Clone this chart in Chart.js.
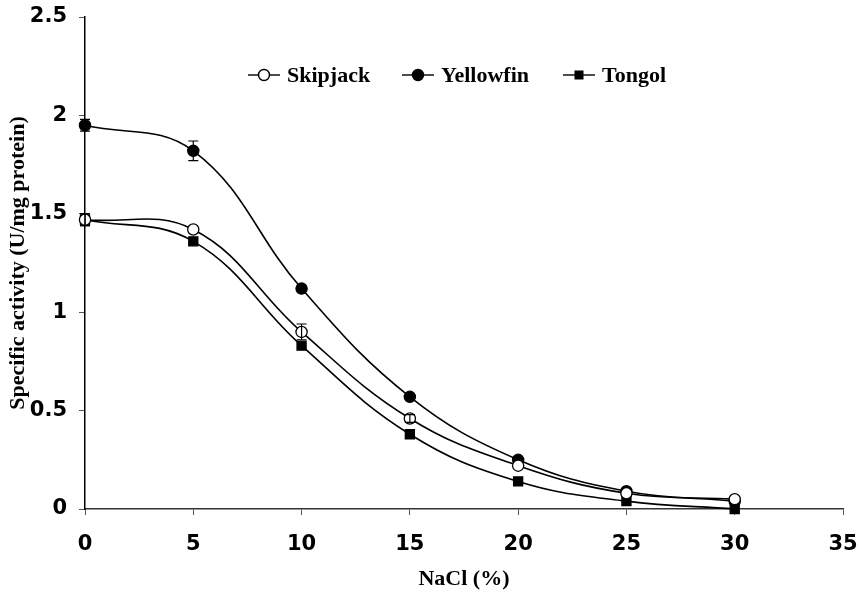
<!DOCTYPE html>
<html>
<head>
<meta charset="utf-8">
<script src="https://cdn.jsdelivr.net/npm/chart.js@4/dist/chart.umd.min.js"></script>
<style>
    body { margin: 0; background: #fff; }
</style>
</head>
<body>
<canvas id="nacl" width="862" height="593"></canvas>
<script>
const nacl = [0, 5, 10, 15, 20, 25, 30];
const skipjack = [1.47, 1.42, 0.90, 0.46, 0.22, 0.08, 0.05];
const yellowfin = [1.95, 1.82, 1.12, 0.57, 0.25, 0.09, 0.04];
const tongol = [1.47, 1.36, 0.83, 0.38, 0.14, 0.04, 0.00];
const skipjackErr = [0.03, 0.01, 0.04, 0.02, 0.01, 0.01, 0.01];
const yellowfinErr = [0.03, 0.05, 0.01, 0.01, 0.01, 0.01, 0.01];
const tongolErr = [0.03, 0.01, 0.01, 0.01, 0.01, 0.01, 0.01];
const xTicks = [0, 5, 10, 15, 20, 25, 30, 35];
const yTicks = [0, 0.5, 1, 1.5, 2, 2.5];

function points(ys) {
    return nacl.map((x, i) => ({x: x, y: ys[i]}));
}

//error bars drawn from the err arrays through the scales
const errorBars = {
    id: 'errorBars',
    afterDatasetsDraw(chart) {
        const ctx = chart.ctx;
        const xs = chart.scales.x, ys = chart.scales.y;
        ctx.save();
        ctx.strokeStyle = '#000';
        ctx.lineWidth = 1.2;
        chart.data.datasets.forEach(ds => {
            ds.data.forEach((p, i) => {
                let e = ds.err[i];
                if (e < 0.02) return;
                let px = xs.getPixelForValue(p.x);
                let top = ys.getPixelForValue(p.y + e);
                let bot = ys.getPixelForValue(p.y - e);
                ctx.beginPath();
                ctx.moveTo(px, top); ctx.lineTo(px, bot);
                ctx.moveTo(px - 5, top); ctx.lineTo(px + 5, top);
                ctx.moveTo(px - 5, bot); ctx.lineTo(px + 5, bot);
                ctx.stroke();
            });
        });
        ctx.restore();
    }
};

//legend inside the plot area
const innerLegend = {
    id: 'innerLegend',
    afterDraw(chart) {
        const ctx = chart.ctx;
        const starts = [248, 402, 563];
        const y = 75;
        ctx.save();
        ctx.font = 'bold 22px "Liberation Serif"';
        ctx.textBaseline = 'middle';
        chart.data.datasets.forEach((ds, i) => {
            let x = starts[i];
            ctx.strokeStyle = '#000';
            ctx.lineWidth = 1.4;
            ctx.beginPath();
            ctx.moveTo(x, y); ctx.lineTo(x + 32, y);
            ctx.stroke();
            if (ds.pointStyle === 'rect') {
                ctx.fillStyle = '#000';
                ctx.fillRect(x + 11.5, y - 4.5, 9, 9);
            } else {
                ctx.fillStyle = ds.pointBackgroundColor;
                ctx.beginPath();
                ctx.arc(x + 16, y, 5.5, 0, Math.PI * 2);
                ctx.fill();
                ctx.stroke();
            }
            ctx.fillStyle = '#000';
            ctx.fillText(ds.label, x + 39, y + 1);
        });
        ctx.restore();
    }
};

function series(label, ys, err, style, fill) {
    return {
        label: label,
        data: points(ys),
        err: err,
        borderColor: '#000',
        borderWidth: 1.6,
        tension: 0.4,
        pointStyle: style,
        pointRadius: style === 'rect' ? 6.4 : 5.6,
        pointBackgroundColor: fill,
        pointBorderColor: '#000',
        pointBorderWidth: 1.3,
        clip: false
    };
}

const tickFont = { family: '"DejaVu Sans"', weight: 'bold', size: 21 };
const titleFont = { family: '"Liberation Serif"', weight: 'bold', size: 22 };

new Chart('nacl', {
    type: 'line',
    data: {
        datasets: [
            series('Skipjack', skipjack, skipjackErr, 'circle', '#fff'),
            series('Yellowfin', yellowfin, yellowfinErr, 'circle', '#000'),
            series('Tongol', tongol, tongolErr, 'rect', '#000')
        ]
    },
    options: {
        responsive: false,
        animation: false,
        layout: { padding: { top: 17, right: 19, left: 0, bottom: 0 } },
        plugins: { legend: { display: false }, tooltip: { enabled: false } },
        scales: {
            x: {
                type: 'linear',
                min: 0, max: 35,
                afterBuildTicks: axis => { axis.ticks = xTicks.map(v => ({value: v})); },
                afterFit: axis => { axis.height = 84; axis.paddingLeft = 0; axis.paddingRight = 0; },
                ticks: { color: '#000', font: tickFont, padding: 17, maxRotation: 0 },
                grid: { drawOnChartArea: false, color: '#555', tickLength: 6, lineWidth: 1 },
                border: { color: '#333', width: 1.5 },
                title: { display: true, text: 'NaCl (%)', color: '#000', font: titleFont, padding: { top: 0, bottom: 0 } }
            },
            y: {
                min: 0, max: 2.5,
                afterBuildTicks: axis => { axis.ticks = yTicks.map(v => ({value: v})); },
                afterFit: axis => { axis.width = 85; axis.paddingTop = 0; axis.paddingBottom = 0; },
                ticks: { color: '#000', font: tickFont, padding: 12, callback: v => String(v) },
                grid: { drawOnChartArea: false, color: '#555', tickLength: 6, lineWidth: 1 },
                border: { color: '#000', width: 1.5 },
                title: { display: true, text: 'Specific activity (U/mg protein)', color: '#000', font: titleFont, padding: { top: 5, bottom: 0 } }
            }
        }
    },
    plugins: [errorBars, innerLegend]
});
</script>
</body>
</html>
